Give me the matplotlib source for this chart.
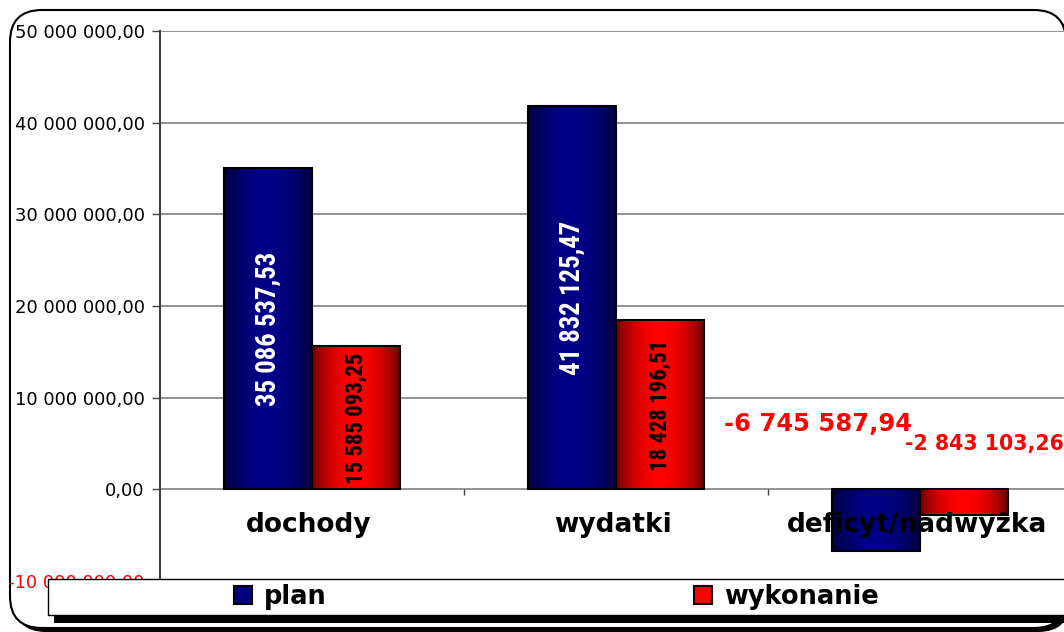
import numpy as np
import matplotlib
matplotlib.use("Agg")
import matplotlib.pyplot as plt
from matplotlib import font_manager as fm
from matplotlib.patches import FancyBboxPatch, Rectangle, Patch
from matplotlib.colors import LinearSegmentedColormap
from matplotlib.ticker import FuncFormatter, MultipleLocator
from matplotlib.transforms import IdentityTransform

categories = ["dochody", "wydatki", "deficyt/nadwyżka"]
plan = [35086537.53, 41832125.47, -6745587.94]
wykonanie = [15585093.25, 18428196.51, -2843103.26]
series_names = ["plan", "wykonanie"]


def pl_fmt(v, pos=None):
    return f"{v:,.2f}".replace(",", " ").replace(".", ",")


# pick a narrow font for the rotated bar labels if one is installed
narrow_props = dict(family=["DejaVu Sans"], fontstretch="normal")
names = {f.name for f in fm.fontManager.ttflist}
for cand in ["Liberation Sans Narrow", "Arial Narrow", "Roboto Condensed", "Open Sans Condensed",
             "DejaVu Sans Condensed"]:
    if cand in names:
        narrow_props = dict(family=[cand, "DejaVu Sans"], fontstretch="normal")
        break
else:
    if any(f.name == "DejaVu Sans" and str(f.stretch) in ("condensed", "semi-condensed")
           for f in fm.fontManager.ttflist):
        narrow_props = dict(family=["DejaVu Sans"], fontstretch="condensed")

fig = plt.figure(figsize=(10.64, 6.32), dpi=100)
fig.patch.set_facecolor("white")

# outer rounded frame with shadow
pix = IdentityTransform()
fig.patches.append(FancyBboxPatch((14, 0), 1056, 618, boxstyle="round,pad=0,rounding_size=32",
                                  transform=pix, facecolor="black", edgecolor="none", zorder=-2))
fig.patches.append(FancyBboxPatch((10, 4), 1056, 618, boxstyle="round,pad=0,rounding_size=32",
                                  transform=pix, facecolor="white", edgecolor="black", lw=1.5, zorder=-1))

ax = fig.add_axes([160 / 1064, 51 / 632, 912 / 1064, 550 / 632])
ax.set_facecolor("none")

x = np.arange(len(categories)) + 0.5
w = 0.289
cmaps = {
    "plan": LinearSegmentedColormap.from_list("p", ["#000038", "#000088"]),
    "wykonanie": LinearSegmentedColormap.from_list("w", ["#6a0000", "#ff0000"]),
}
solid = {"plan": "#000080", "wykonanie": "#ff0000"}
u = np.linspace(0, 1, 200)
grad = np.sin(np.pi * u) ** 0.8

for vals, off, name in [(plan, -w / 2, "plan"), (wykonanie, w / 2, "wykonanie")]:
    bars = ax.bar(x + off, vals, w, color=solid[name], edgecolor="black", lw=1.5, zorder=3)
    for b in bars:
        x0, y0 = b.get_x(), b.get_y()
        x1, y1 = x0 + b.get_width(), y0 + b.get_height()
        im = ax.imshow(grad[None, :], extent=(x0, x1, min(y0, y1), max(y0, y1)),
                       cmap=cmaps[name], aspect="auto", zorder=2.5, interpolation="bilinear")
        im.set_clip_path(b)
        b.set_facecolor("none")

ax.set_xlim(0, 3)
ax.set_ylim(-10e6, 50e6)

# value labels inside bars, sized so their length matches the reference
renderer = fig.canvas.get_renderer()
labels = []
for i in range(2):
    labels.append((ax.text(x[i] - w / 2, plan[i] / 2, pl_fmt(plan[i]), rotation=90, ha="center",
                           va="center", color="white", fontsize=19.5, fontweight="bold",
                           zorder=4, **narrow_props), 155))
    labels.append((ax.text(x[i] + w / 2, wykonanie[i] / 2, pl_fmt(wykonanie[i]), rotation=90,
                           ha="center", va="center", color="black", fontsize=16.5,
                           fontweight="bold", zorder=4, **narrow_props), 131))
for t, target in labels:
    h = t.get_window_extent(renderer).height
    t.set_fontsize(t.get_fontsize() * target / h)

ax.text(1.855, 6.33e6, pl_fmt(plan[2]), color="red", fontsize=17.5, fontweight="bold",
        ha="left", va="baseline", zorder=4)
ax.text(2.451, 4.25e6, pl_fmt(wykonanie[2]), color="red", fontsize=14.8, fontweight="bold",
        ha="left", va="baseline", zorder=4)

# category labels
for xi, c in zip(x, categories):
    ax.text(xi - 0.01, -4.69e6, c, ha="center", va="baseline", fontsize=19,
            fontweight="bold", zorder=5)

# grid, axes
ax.yaxis.set_major_locator(MultipleLocator(10e6))
ax.yaxis.set_major_formatter(FuncFormatter(pl_fmt))
ax.grid(axis="y", color="#808080", lw=1.2, zorder=1)
ax.set_xticks([])
ax.tick_params(axis="y", length=6, width=1, color="#404040", pad=5, labelsize=13)
for t in ax.get_yticklabels():
    if t.get_text().startswith("-"):
        t.set_color("red")
for s in ["top", "right", "bottom"]:
    ax.spines[s].set_visible(False)
ax.spines["left"].set_color("#404040")
ax.spines["left"].set_linewidth(1.5)
ax.vlines([1, 2], -0.65e6, 0, color="#404040", lw=1, zorder=2)

# legend box with shadow
fig.patches.append(Rectangle((54, 9), 1100, 36, transform=pix, facecolor="black",
                             edgecolor="none", zorder=3))
fig.patches.append(Rectangle((48, 17), 1100, 36, transform=pix, facecolor="white",
                             edgecolor="black", lw=1, zorder=3.1))
handles = [Patch(facecolor=solid[n], edgecolor="black", lw=1.5) for n in series_names]
fig.legend(handles, series_names, loc="center left", bbox_to_anchor=(221 / 1064, 35 / 632),
           ncol=2, frameon=False, borderpad=0, handlelength=0.7, handleheight=0.7,
           handletextpad=0.47, columnspacing=14.3,
           prop={"weight": "bold", "size": 18.5}).set_zorder(4)

fig.savefig("out.png", dpi=100)
